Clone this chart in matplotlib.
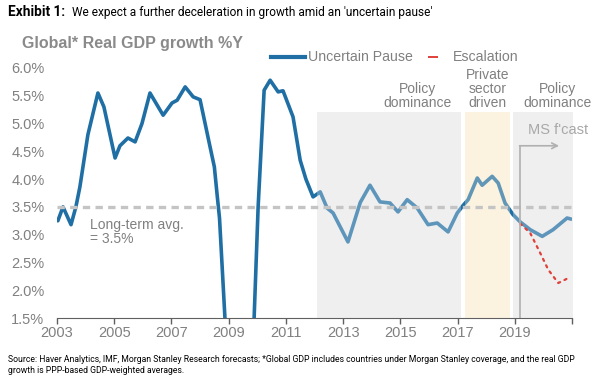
import matplotlib
matplotlib.use("Agg")
import matplotlib.pyplot as plt
from matplotlib.lines import Line2D

plt.rcParams['font.family'] = ['Liberation Sans', 'DejaVu Sans']

# Uncertain Pause (history + base case), quarterly-ish points
years = [2003.03, 2003.21, 2003.49, 2003.66, 2003.8, 2004.08, 2004.43, 2004.64,
         2005.03, 2005.2, 2005.48, 2005.73, 2005.97, 2006.25, 2006.71, 2007.02,
         2007.2, 2007.48, 2007.76, 2008.0, 2008.35, 2008.5, 2008.6, 2008.68,
         2008.87, 2009.1, 2009.4, 2009.65, 2009.89, 2010.03, 2010.24, 2010.45,
         2010.73, 2010.9, 2011.25, 2011.5, 2011.7, 2011.95, 2012.2, 2012.44,
         2012.65, 2013.17, 2013.6, 2013.94, 2014.29, 2014.64, 2014.92, 2015.24,
         2015.59, 2015.97, 2016.29, 2016.67, 2016.99, 2017.2, 2017.37, 2017.69,
         2017.86, 2018.21, 2018.42, 2018.66, 2018.94, 2019.19, 2019.54, 2019.96,
         2020.34, 2020.83, 2020.97]
growth = [3.25, 3.5, 3.18, 3.5, 3.86, 4.8, 5.55, 5.3,
          4.38, 4.6, 4.74, 4.67, 5.0, 5.55, 5.15, 5.37,
          5.42, 5.66, 5.48, 5.43, 4.58, 4.22, 3.7, 3.3,
          1.5, -0.5, -1.2, -0.3, 1.5, 3.5, 5.6, 5.78,
          5.57, 5.59, 5.12, 4.34, 4.0, 3.68, 3.77, 3.48,
          3.39, 2.87, 3.58, 3.89, 3.59, 3.57, 3.41, 3.63,
          3.48, 3.18, 3.21, 3.05, 3.39, 3.53, 3.63, 4.02,
          3.89, 4.05, 3.93, 3.57, 3.36, 3.23, 3.09, 2.97,
          3.09, 3.3, 3.28]

# Escalation scenario
esc_years = [2019.19, 2019.54, 2019.89, 2020.17, 2020.52, 2020.76, 2020.94]
esc_growth = [3.2, 3.03, 2.67, 2.37, 2.13, 2.19, 2.24]

long_term_avg = 3.5
forecast_start = 2019.19

# regimes: (start, end, colour, label, label x)
regimes = [
    (2012.1, 2017.12, '#efefef', 'Policy\ndominance', 2015.6),
    (2017.27, 2018.84, '#fbf3e0', 'Private\nsector\ndriven', 2018.05),
    (2018.95, 2021.2, '#efefef', 'Policy\ndominance', 2020.5),
]
shade_top = 5.2

xticks = list(range(2003, 2022, 2))
xtick_labels = [str(y) if y < 2021 else '' for y in xticks]
yticks = [1.5, 2.0, 2.5, 3.0, 3.5, 4.0, 4.5, 5.0, 5.5, 6.0]

grey_txt = '#808080'
blue = '#1f6fa5'
red = '#e0403a'

fig = plt.figure(figsize=(6, 3.82), dpi=100)
ax = fig.add_axes([0.095, 0.1675, 0.8583, 0.6545])

for x0, x1, col, lab, lx in regimes:
    ax.fill_between([x0, x1], 1.5, shade_top, color=col, lw=0, zorder=0)
    ax.fill_between([x0, x1], 1.5, shade_top, color=col, lw=0, alpha=0.3, zorder=3)
    ax.text(lx, shade_top + 0.05, lab, ha='center', va='bottom', fontsize=10,
            color=grey_txt, linespacing=1.0)

ax.plot(years, growth, color=blue, lw=2.6, solid_capstyle='round',
        solid_joinstyle='round', zorder=2)
ax.plot(esc_years, esc_growth, color=red, lw=1.6, ls=(0, (1, 2.2)),
        dash_capstyle='round', zorder=4)

ax.axhline(long_term_avg, color='#c4c4c4', lw=2.4, ls=(0, (2.2, 1.6)), zorder=4)
ax.text(2004.15, 3.3, 'Long-term avg.\n= 3.5%', ha='left', va='top', fontsize=10,
        color=grey_txt, linespacing=1.0)

# forecast marker
ax.plot([forecast_start, forecast_start], [1.5, 4.6], color='#b0b0b0', lw=1.2, zorder=4)
ax.annotate('', xy=(2020.55, 4.6), xytext=(forecast_start - 0.02, 4.6),
            arrowprops=dict(arrowstyle='->', color='#b0b0b0', lw=1.2,
                            shrinkA=0, shrinkB=0), zorder=4)
ax.text(2020.5, 4.75, "MS f'cast", ha='center', va='bottom', fontsize=10.5,
        color='#a8a8a8')

ax.set_xlim(2003, 2021)
ax.set_ylim(1.5, 6.0)
ax.set_xticks(xticks)
ax.set_xticklabels(xtick_labels)
ax.set_yticks(yticks)
ax.set_yticklabels([f'{v:.1f}%' for v in yticks])
ax.tick_params(axis='x', colors='#606060', labelcolor=grey_txt, labelsize=10.5,
               length=4, width=1, pad=2)
ax.tick_params(axis='y', length=0, labelcolor=grey_txt, labelsize=10.5, pad=9)
for s in ['top', 'right', 'left']:
    ax.spines[s].set_visible(False)
ax.spines['bottom'].set_color('#606060')

handles = [Line2D([], [], color=blue, lw=3),
           Line2D([], [], color=red, ls='none', marker='_', markersize=7,
                  markeredgewidth=1.4)]
ax.legend(handles, ['Uncertain Pause', 'Escalation'], loc='lower left',
          bbox_to_anchor=(0.4, 0.98), ncol=2, frameon=False, fontsize=10.2,
          labelcolor=grey_txt, handlelength=2.4, handletextpad=0.2,
          columnspacing=0.2, borderaxespad=0.2)

fig.text(0.037, 0.887, 'Global* Real GDP growth %Y', fontsize=11.5,
         fontweight='bold', color='#8a8a8a', va='center')
fig.text(0.013, 0.968, 'Exhibit 1:', fontsize=9.8, fontweight='bold',
         va='center', family='Roboto')
fig.text(0.12, 0.968, "We expect a further deceleration in growth amid an 'uncertain pause'",
         fontsize=8.6, va='center', family='Roboto')
fig.text(0.013, 0.07,
         'Source: Haver Analytics, IMF, Morgan Stanley Research forecasts; *Global GDP includes '
         'countries under Morgan Stanley coverage, and the real GDP\ngrowth is PPP-based '
         'GDP-weighted averages.', fontsize=6.2, va='top', family='Roboto',
         linespacing=1.3)

fig.savefig('out.png', dpi=100)
